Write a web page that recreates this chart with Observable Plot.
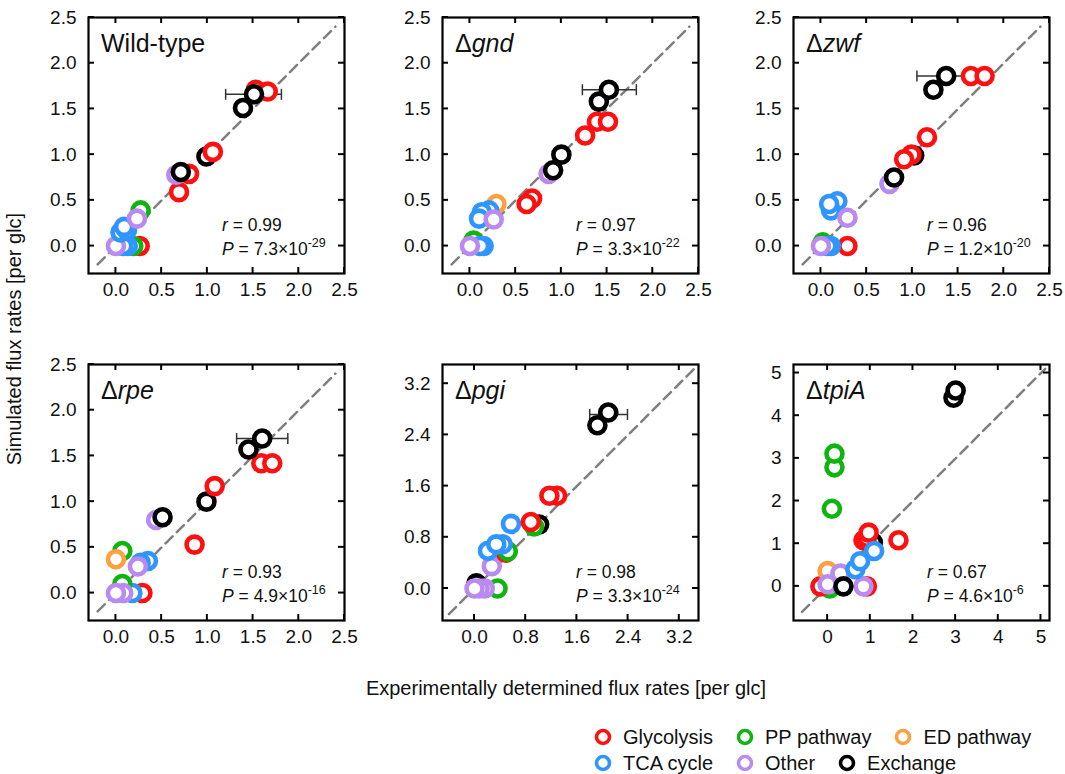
<!DOCTYPE html>
<html><head><meta charset="utf-8">
<script src="https://cdn.jsdelivr.net/npm/d3@7"></script>
<script src="https://cdn.jsdelivr.net/npm/@observablehq/plot@0.6"></script>
<style>
body{margin:0;background:#fff;font-family:"Liberation Sans",Arial,sans-serif;}
#fig{position:relative;width:1065px;height:774px;overflow:hidden;background:#fff;}
.panel{position:absolute;}
#legend{position:absolute;left:594px;top:724px;font-size:20px;color:#111;}
#legend .row{display:flex;align-items:center;height:26px;gap:23px;}
#legend .item{display:flex;align-items:center;}
#legend .item span{margin-left:11px;white-space:nowrap;}
</style></head><body><div id="fig"></div>
<script>
// ---------- data ----------
const categories = ["Glycolysis", "PP pathway", "ED pathway", "TCA cycle", "Other", "Exchange"];
const colors = ["#ff1010", "#10b410", "#ffa040", "#2f96ff", "#b98af0", "#000000"];
const legendRows = [["Glycolysis", "PP pathway", "ED pathway"], ["TCA cycle", "Other", "Exchange"]];

const titles = ["Wild-type", "Δgnd", "Δzwf", "Δrpe", "Δpgi", "ΔtpiA"];
const rValues = ["0.99", "0.97", "0.96", "0.93", "0.98", "0.67"];
const pMantissa = ["7.3", "3.3", "1.2", "4.9", "3.3", "4.6"];
const pExponent = ["-29", "-22", "-20", "-16", "-24", "-6"];

const xTitle = "Experimentally determined flux rates [per glc]";
const yTitle = "Simulated flux rates [per glc]";

const ticks25 = [0, 0.5, 1, 1.5, 2, 2.5];
const ticksPgi = [0, 0.8, 1.6, 2.4, 3.2];
const ticksTpiA = [0, 1, 2, 3, 4, 5];
const domain25 = [-0.3, 2.5];
const domainPgi = [-0.5, 3.5];
const domainTpiA = [-0.8, 5.2];
const diag25 = [-0.2, 2.4];
const diagPgi = [-0.4, 3.45];
const diagTpiA = [-0.6, 5.1];

// [experimental, simulated, category] in drawing order
const wildType = [
  [0.26, 0.0, "Glycolysis"], [0.19, 0.0, "PP pathway"], [0.13, 0.0, "TCA cycle"], [0.08, 0.0, "TCA cycle"],
  [0.0, 0.0, "Other"],
  [0.05, 0.15, "TCA cycle"], [0.12, 0.17, "TCA cycle"], [0.09, 0.21, "TCA cycle"],
  [0.27, 0.39, "PP pathway"], [0.23, 0.30, "Other"],
  [0.69, 0.59, "Glycolysis"], [0.80, 0.79, "Glycolysis"], [0.66, 0.78, "Other"], [0.71, 0.81, "Exchange"],
  [0.99, 0.98, "Exchange"], [1.06, 1.03, "Glycolysis"],
  [1.53, 1.71, "Glycolysis"], [1.66, 1.69, "Glycolysis"], [1.39, 1.51, "Exchange"], [1.51, 1.66, "Exchange"]
];
const gnd = [
  [0.04, 0.06, "PP pathway"], [0.15, 0.0, "TCA cycle"], [0.11, 0.0, "TCA cycle"], [0.0, 0.0, "Other"],
  [0.29, 0.46, "ED pathway"], [0.21, 0.39, "TCA cycle"], [0.13, 0.37, "TCA cycle"], [0.10, 0.30, "TCA cycle"],
  [0.26, 0.29, "Other"],
  [0.68, 0.52, "Glycolysis"], [0.62, 0.46, "Glycolysis"],
  [0.86, 0.79, "Other"], [0.91, 0.83, "Exchange"], [1.0, 1.0, "Exchange"],
  [1.26, 1.21, "Glycolysis"], [1.39, 1.36, "Glycolysis"], [1.51, 1.36, "Glycolysis"],
  [1.41, 1.58, "Exchange"], [1.52, 1.71, "Exchange"]
];
const zwf = [
  [0.29, 0.0, "Glycolysis"], [0.02, 0.04, "PP pathway"], [0.11, 0.0, "TCA cycle"], [0.07, 0.0, "TCA cycle"],
  [0.0, 0.0, "Other"],
  [0.18, 0.49, "TCA cycle"], [0.11, 0.39, "TCA cycle"], [0.09, 0.46, "TCA cycle"], [0.29, 0.31, "Other"],
  [0.75, 0.68, "Other"], [0.80, 0.75, "Exchange"],
  [1.02, 0.99, "Exchange"], [0.99, 1.0, "Glycolysis"], [0.91, 0.95, "Glycolysis"], [1.16, 1.19, "Glycolysis"],
  [1.23, 1.71, "Exchange"], [1.37, 1.86, "Exchange"], [1.64, 1.86, "Glycolysis"], [1.79, 1.86, "Glycolysis"]
];
const rpe = [
  [0.29, 0.0, "Glycolysis"], [0.18, 0.0, "TCA cycle"], [0.07, 0.10, "PP pathway"], [0.08, 0.0, "Other"],
  [0.0, 0.0, "Other"],
  [0.07, 0.46, "PP pathway"], [0.0, 0.37, "ED pathway"], [0.35, 0.35, "TCA cycle"], [0.27, 0.33, "TCA cycle"],
  [0.24, 0.29, "Other"],
  [0.86, 0.53, "Glycolysis"], [0.44, 0.80, "Other"], [0.51, 0.83, "Exchange"],
  [0.99, 1.0, "Exchange"], [1.08, 1.17, "Glycolysis"],
  [1.59, 1.42, "Glycolysis"], [1.71, 1.42, "Glycolysis"], [1.45, 1.57, "Exchange"], [1.60, 1.69, "Exchange"]
];
const pgi = [
  [0.36, 0.0, "PP pathway"], [0.03, 0.08, "Exchange"], [0.16, 0.0, "Other"], [0.08, 0.0, "Other"],
  [0.0, 0.0, "Other"], [0.27, 0.35, "Other"],
  [0.49, 0.56, "Glycolysis"], [0.52, 0.58, "PP pathway"], [0.44, 0.69, "TCA cycle"], [0.21, 0.59, "TCA cycle"],
  [0.34, 0.69, "TCA cycle"], [0.57, 1.01, "TCA cycle"],
  [1.01, 1.0, "Exchange"], [0.93, 0.97, "PP pathway"], [0.88, 1.04, "Glycolysis"],
  [1.29, 1.45, "Glycolysis"], [1.17, 1.45, "Glycolysis"],
  [1.92, 2.55, "Exchange"], [2.09, 2.75, "Exchange"]
];
const tpiA = [
  [0.05, -0.05, "PP pathway"], [-0.17, 0.0, "Glycolysis"], [0.92, 0.0, "Glycolysis"], [0.84, 0.0, "Other"],
  [0.0, 0.36, "ED pathway"], [0.30, 0.30, "Other"], [0.0, 0.05, "Other"], [0.37, 0.0, "Exchange"],
  [1.06, 1.03, "Exchange"], [0.84, 1.08, "Glycolysis"], [0.92, 1.14, "Glycolysis"], [0.96, 1.26, "Glycolysis"],
  [1.66, 1.08, "Glycolysis"],
  [0.65, 0.40, "TCA cycle"], [0.76, 0.59, "TCA cycle"], [1.09, 0.83, "TCA cycle"],
  [0.10, 1.82, "PP pathway"], [0.16, 2.79, "PP pathway"], [0.16, 3.11, "PP pathway"],
  [2.95, 4.42, "Exchange"], [3.0, 4.59, "Exchange"]
];

// error bars: [simulated, experimental low, experimental high]
const errWildType = [[1.66, 1.20, 1.81]];
const errGnd = [[1.71, 1.23, 1.82]];
const errZwf = [[1.86, 1.05, 1.68]];
const errRpe = [[1.69, 1.32, 1.88]];
const errPgi = [[2.72, 1.80, 2.39]];
const errTpiA = [];

// ---------- layout ----------
const INNER = 256, ML = 60, MR = 12, MT = 12, MB = 40, TL = 6;
const FONT = "'Liberation Sans', Arial, sans-serif";
const f1 = d3.format(".1f"), f0 = d3.format("d");
const panels = [
  {points: wildType, errors: errWildType, domain: domain25, ticks: ticks25, diag: diag25, fmt: f1, left: 88, top: 16.5},
  {points: gnd, errors: errGnd, domain: domain25, ticks: ticks25, diag: diag25, fmt: f1, left: 442, top: 16.5},
  {points: zwf, errors: errZwf, domain: domain25, ticks: ticks25, diag: diag25, fmt: f1, left: 793, top: 16.5},
  {points: rpe, errors: errRpe, domain: domain25, ticks: ticks25, diag: diag25, fmt: f1, left: 88, top: 363.5},
  {points: pgi, errors: errPgi, domain: domainPgi, ticks: ticksPgi, diag: diagPgi, fmt: f1, left: 442, top: 363.5},
  {points: tpiA, errors: errTpiA, domain: domainTpiA, ticks: ticksTpiA, diag: diagTpiA, fmt: f0, left: 793, top: 363.5}
];

const fig = document.getElementById("fig");
const capSymbol = {draw(ctx, size) { const r = Math.sqrt(size / Math.PI); ctx.moveTo(0, -r); ctx.lineTo(0, r); }};

panels.forEach((cfg, i) => {
  const pts = cfg.points.map(([x, y, c]) => ({x, y, c}));
  const errs = cfg.errors.map(([y, lo, hi]) => ({y, lo, hi}));
  const caps = errs.flatMap(e => [{x: e.lo, y: e.y}, {x: e.hi, y: e.y}]);
  const diag = cfg.diag.map(v => ({x: v, y: v}));
  const plot = Plot.plot({
    width: ML + INNER + MR, height: MT + INNER + MB,
    marginLeft: ML, marginRight: MR, marginTop: MT, marginBottom: MB,
    x: {domain: cfg.domain, label: null},
    y: {domain: cfg.domain, label: null},
    color: {domain: categories, range: colors},
    style: {fontFamily: FONT, fontSize: "19px", color: "#111", background: "transparent", overflow: "visible"},
    marks: [
      Plot.line(diag, {x: "x", y: "y", stroke: "#7f7f7f", strokeWidth: 2.5, strokeDasharray: "10,6"}),
      Plot.ruleY(errs, {y: "y", x1: "lo", x2: "hi", stroke: "#333", strokeWidth: 1.5}),
      Plot.dot(caps, {x: "x", y: "y", symbol: capSymbol, r: 5.5, stroke: "#333", strokeWidth: 1.5}),
      Plot.dot(pts, {x: "x", y: "y", stroke: "c", fill: "white", r: 8, strokeWidth: 4.6}),
      Plot.frame({stroke: "#000", strokeWidth: 2.2}),
      Plot.axisX(cfg.ticks, {anchor: "bottom", tickSize: 0, tickPadding: 9, tickFormat: cfg.fmt, label: null}),
      Plot.axisY(cfg.ticks, {anchor: "left", tickSize: 0, tickPadding: 12, tickFormat: cfg.fmt, label: null})
    ]
  });
  plot.classList.add("panel");
  plot.style.left = (cfg.left - ML) + "px";
  plot.style.top = (cfg.top - MT) + "px";
  fig.appendChild(plot);

  const sx = plot.scale("x"), sy = plot.scale("y");
  const svg = d3.select(plot);
  const g = svg.append("g").attr("stroke", "#000").attr("stroke-width", 2);
  const x0 = ML, x1 = ML + INNER, y0 = MT, y1 = MT + INNER;
  cfg.ticks.forEach(t => {
    const px = sx.apply(t), py = sy.apply(t);
    g.append("line").attr("x1", px).attr("x2", px).attr("y1", y1).attr("y2", y1 - TL);
    g.append("line").attr("x1", px).attr("x2", px).attr("y1", y0).attr("y2", y0 + TL);
    g.append("line").attr("y1", py).attr("y2", py).attr("x1", x0).attr("x2", x0 + TL);
    g.append("line").attr("y1", py).attr("y2", py).attr("x1", x1).attr("x2", x1 - TL);
  });

  // panel title
  const title = titles[i];
  const tt = svg.append("text").attr("x", ML + 13).attr("y", MT + 35).attr("text-anchor", "start")
    .attr("font-size", 25).attr("font-family", FONT).attr("fill", "#111");
  if (title.startsWith("Δ")) {
    tt.append("tspan").text("Δ");
    tt.append("tspan").attr("font-style", "italic").text(title.slice(1));
  } else {
    tt.text(title);
  }

  // statistics
  const st = svg.append("g").attr("font-size", 17.5).attr("font-family", FONT).attr("fill", "#111")
    .attr("text-anchor", "start");
  const rt = st.append("text").attr("x", ML + 134).attr("y", MT + 214);
  rt.append("tspan").attr("font-style", "italic").text("r");
  rt.append("tspan").text(" = " + rValues[i]);
  const pt = st.append("text").attr("x", ML + 134).attr("y", MT + 238);
  pt.append("tspan").attr("font-style", "italic").text("P");
  pt.append("tspan").text(" = " + pMantissa[i] + "×10");
  pt.append("tspan").attr("font-size", 12.5).attr("dy", -8).text(pExponent[i]);
});

// axis titles
const over = d3.select(fig).append("svg").attr("width", 1065).attr("height", 774)
  .style("position", "absolute").style("left", 0).style("top", 0).style("pointer-events", "none");
over.append("text").attr("x", 566).attr("y", 695).attr("text-anchor", "middle")
  .attr("font-size", 20).attr("font-family", FONT).attr("fill", "#111").text(xTitle);
over.append("text").attr("transform", "translate(21,339) rotate(-90)").attr("text-anchor", "middle")
  .attr("font-size", 20).attr("font-family", FONT).attr("fill", "#111").text(yTitle);

// legend
const legend = d3.select(fig).append("div").attr("id", "legend");
legendRows.forEach(row => {
  const r = legend.append("div").attr("class", "row");
  row.forEach(name => {
    const it = r.append("div").attr("class", "item");
    it.append("svg").attr("width", 18).attr("height", 18)
      .append("circle").attr("cx", 9).attr("cy", 9).attr("r", 6.5)
      .attr("fill", "white").attr("stroke", colors[categories.indexOf(name)]).attr("stroke-width", 3.6);
    it.append("span").text(name);
  });
});
</script>
</body></html>
